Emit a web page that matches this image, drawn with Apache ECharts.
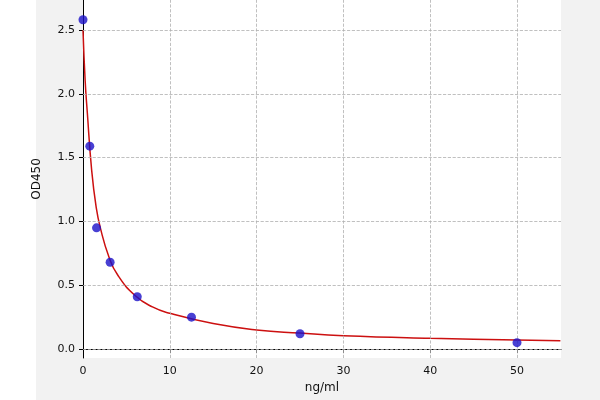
<!DOCTYPE html><html><head><meta charset="utf-8"><script src="https://cdn.jsdelivr.net/npm/echarts@6/dist/echarts.min.js"></script></head><body style="margin:0"><div id="c" style="width:600px;height:400px"></div><script>
const pointsX=[0,0.78,1.56,3.125,6.25,12.5,25,50];
const pointsY=[2.58,1.59,0.95,0.68,0.41,0.25,0.12,0.05];
const curveX=[0,0.25,0.5,1,1.5,2,3,4,6,8,10,15,20,25,30,40,50,55];
const curveY=[2.5,2.1,1.85,1.4,1.12,0.95,0.72,0.58,0.42,0.33,0.28,0.2,0.15,0.125,0.105,0.085,0.072,0.066];
const xTicks=[0,10,20,30,40,50];
const yTicks=[0,0.5,1,1.5,2,2.5];
const gl={type:'dashed',color:'#b0b0b0',width:0.8};
const ch=echarts.init(document.getElementById('c'));
ch.setOption({animation:false,backgroundColor:'#fff',
graphic:[{type:'rect',z:-10,shape:{x:36,y:0,width:564,height:400},style:{fill:'#f2f2f2'}},{type:'rect',z:-9,shape:{x:83,y:0,width:478,height:358},style:{fill:'#fff'}}],
grid:{left:83,right:39,top:0,bottom:42},
xAxis:{type:'value',min:0,max:55.07,name:'ng/ml',nameLocation:'middle',nameGap:24,nameTextStyle:{color:'#111',fontSize:12,fontFamily:'DejaVu Sans'},
 axisLine:{lineStyle:{color:'#000'}},axisTick:{customValues:xTicks,length:4,lineStyle:{color:'#000'}},axisLabel:{customValues:xTicks,color:'#111',fontSize:11,fontFamily:'DejaVu Sans'},splitLine:{show:false}},
yAxis:{type:'value',min:-0.07,max:2.735,name:'OD450',nameLocation:'middle',nameGap:40,nameTextStyle:{color:'#111',fontSize:12,fontFamily:'DejaVu Sans'},
 axisLine:{show:true,lineStyle:{color:'#000'}},axisTick:{show:true,customValues:yTicks,length:4,lineStyle:{color:'#000'}},axisLabel:{customValues:yTicks,color:'#111',fontSize:11,fontFamily:'DejaVu Sans',formatter:v=>v.toFixed(1)},splitLine:{show:false}},
series:[
{type:'line',data:curveX.map((x,i)=>[x,curveY[i]]),smooth:true,showSymbol:false,lineStyle:{color:'#cc1010',width:1.5},
 markLine:{silent:true,symbol:'none',label:{show:false},lineStyle:gl,data:[...xTicks.slice(1).map(v=>({xAxis:v})),...yTicks.map(v=>({yAxis:v}))]}},
{type:'scatter',data:pointsX.map((x,i)=>[x,pointsY[i]]),symbolSize:9,itemStyle:{color:'#1a10c8'},z:5}
]});
</script></body></html>
